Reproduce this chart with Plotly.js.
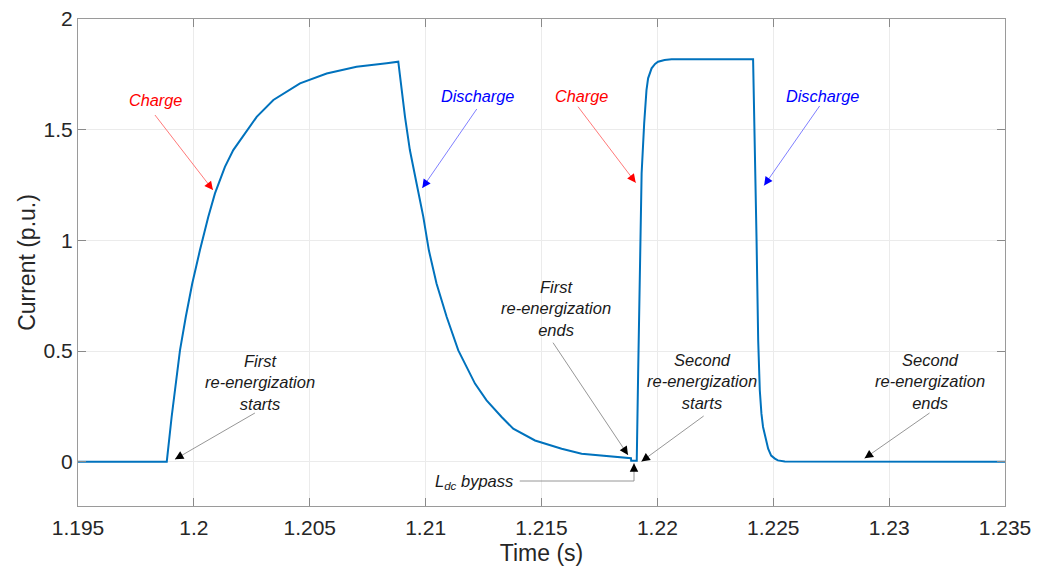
<!DOCTYPE html>
<html>
<head>
<meta charset="utf-8">
<script src="https://cdn.plot.ly/plotly-3.0.1.min.js"></script>
<style>html,body{margin:0;padding:0;background:#fff;}#chart{width:1050px;height:569px;}</style>
</head>
<body>
<div id="chart"></div>
<script>
// ---- data ----
const time = [1.195, 1.19883, 1.19904, 1.19921, 1.19940, 1.19965, 1.19993, 1.20026, 1.20062, 1.20091,
  1.20134, 1.20170, 1.20220, 1.20271, 1.20343, 1.20458, 1.20573, 1.20702, 1.20832, 1.20882,
  1.20911, 1.20932, 1.20961, 1.20990, 1.21014, 1.21047, 1.21091, 1.21141, 1.21213, 1.21263,
  1.21328, 1.21378, 1.21472, 1.21587, 1.21673, 1.21874, 1.21886, 1.21887, 1.21911, 1.21917,
  1.21925, 1.21932, 1.21943, 1.21953, 1.21960, 1.21975, 1.21990, 1.22003, 1.22031, 1.22061,
  1.22413, 1.22421, 1.22428, 1.22435, 1.22442, 1.22449, 1.22456, 1.22478, 1.22491, 1.22507,
  1.22520, 1.22550, 1.235];
const current = [0, 0, 0.202, 0.353, 0.503, 0.654, 0.805, 0.955, 1.106, 1.212,
  1.332, 1.408, 1.483, 1.558, 1.634, 1.709, 1.754, 1.784, 1.800, 1.807,
  1.558, 1.408, 1.257, 1.106, 0.955, 0.805, 0.654, 0.503, 0.353, 0.277,
  0.202, 0.149, 0.096, 0.059, 0.036, 0.018, 0.016, 0.004, 0.004, 0.398,
  0.85, 1.302, 1.528, 1.679, 1.732, 1.777, 1.797, 1.807, 1.815, 1.818,
  1.818, 1.453, 1.0, 0.548, 0.322, 0.217, 0.157, 0.059, 0.028, 0.014,
  0.006, 0.001, 0];
const xTicks = [1.195, 1.2, 1.205, 1.21, 1.215, 1.22, 1.225, 1.23, 1.235];
const xTickLabels = ['1.195', '1.2', '1.205', '1.21', '1.215', '1.22', '1.225', '1.23', '1.235'];
const yTicks = [0, 0.5, 1, 1.5, 2];
const yTickLabels = ['0', '0.5', '1', '1.5', '2'];

// ---- geometry helpers ----
const M = {l: 78, t: 19, r: 44.5, b: 63};
const W = 1050 - M.l - M.r, H = 569 - M.t - M.b;
const xr = [1.195, 1.235], yr = [-0.2, 2];
const dx = px => xr[0] + (px - M.l) / W * (xr[1] - xr[0]);
const dy = py => yr[1] - (py - M.t) / H * (yr[1] - yr[0]);

const FONT = 'Liberation Sans, Arial, Helvetica, sans-serif';

// text labels (pixel placement)
const labels = [
  {t: 'Charge', x: 156, y: 100, c: '#ff0000', s: 16.3},
  {t: 'Discharge', x: 478, y: 96, c: '#0000ff', s: 16.3},
  {t: 'Charge', x: 582, y: 96, c: '#ff0000', s: 16.3},
  {t: 'Discharge', x: 823, y: 96, c: '#0000ff', s: 16.3},
  {t: 'First<br>re-energization<br>starts', x: 260, y: 382.5, c: '#1a1a1a', s: 16.5},
  {t: 'First<br>re-energization<br>ends', x: 556, y: 308.5, c: '#1a1a1a', s: 16.5},
  {t: 'Second<br>re-energization<br>starts', x: 702, y: 381.5, c: '#1a1a1a', s: 16.5},
  {t: 'Second<br>re-energization<br>ends', x: 930, y: 381.5, c: '#1a1a1a', s: 16.5},
  {t: 'L<sub>dc</sub> bypass', x: 474, y: 482, c: '#1a1a1a', s: 16.5}
];
// arrows (tail -> tip, pixel placement)
const arrows = [
  {a: [155, 115], b: [213, 190], lc: '#ff6a6a', hc: '#ff0000'},
  {a: [477, 109], b: [422.5, 188], lc: '#7070ff', hc: '#0000ff'},
  {a: [578.3, 106.7], b: [636, 182.7], lc: '#ff6a6a', hc: '#ff0000'},
  {a: [820, 106], b: [764.5, 185.5], lc: '#7070ff', hc: '#0000ff'},
  {a: [255, 413], b: [175, 459.3], lc: '#8a8a8a', hc: '#000000'},
  {a: [553.3, 342.7], b: [628.3, 455], lc: '#8a8a8a', hc: '#000000'},
  {a: [704, 416], b: [641.7, 461.5], lc: '#8a8a8a', hc: '#000000'},
  {a: [930, 413], b: [865, 458.3], lc: '#8a8a8a', hc: '#000000'},
  {a: [634.3, 481], b: [634.3, 463.3], lc: '#8a8a8a', hc: '#000000'}
];

const annotations = [];
labels.forEach(l => annotations.push({
  x: dx(l.x), y: dy(l.y), xref: 'x', yref: 'y', text: l.t, showarrow: false,
  xanchor: 'center', yanchor: 'middle', align: 'center',
  font: {family: FONT, size: l.s, color: l.c, style: 'italic'}
}));
const shapes = [{
  type: 'line', xref: 'x', yref: 'y', x0: dx(520), y0: dy(481), x1: dx(634.3), y1: dy(481),
  line: {color: '#8a8a8a', width: 0.9}
}];
arrows.forEach(r => {
  const vx = r.a[0] - r.b[0], vy = r.a[1] - r.b[1];
  const len = Math.hypot(vx, vy);
  shapes.push({
    type: 'line', xref: 'x', yref: 'y', x0: dx(r.a[0]), y0: dy(r.a[1]), x1: dx(r.b[0]), y1: dy(r.b[1]),
    line: {color: r.lc, width: 0.9}
  });
  annotations.push({
    x: dx(r.b[0]), y: dy(r.b[1]), xref: 'x', yref: 'y', ax: vx / len * 6, ay: vy / len * 6, text: '',
    showarrow: true, arrowhead: 2, arrowwidth: 1, arrowsize: 1.7, arrowcolor: r.hc
  });
});

const trace = {
  x: time, y: current, type: 'scatter', mode: 'lines',
  line: {color: '#0072BD', width: 2}, hoverinfo: 'skip'
};

const axisCommon = {
  showline: true, mirror: 'ticks', linecolor: '#9a9a9a', linewidth: 1,
  ticks: 'inside', ticklen: 8, tickcolor: '#8a8a8a', tickwidth: 1,
  showgrid: true, gridcolor: '#ebebeb', gridwidth: 1, zeroline: false,
  tickfont: {family: FONT, size: 21, color: '#262626'}
};

const layout = {
  width: 1050, height: 569,
  margin: M,
  paper_bgcolor: '#ffffff', plot_bgcolor: '#ffffff',
  showlegend: false,
  xaxis: Object.assign({}, axisCommon, {
    range: xr, tickmode: 'array', tickvals: xTicks, ticktext: xTickLabels,
    ticklabelstandoff: 3,
    title: {text: 'Time (s)', font: {family: FONT, size: 23, color: '#262626'}, standoff: 6},
    automargin: false
  }),
  yaxis: Object.assign({}, axisCommon, {
    range: yr, tickmode: 'array', tickvals: yTicks, ticktext: yTickLabels,
    title: {text: 'Current (p.u.)', font: {family: FONT, size: 23, color: '#262626'}, standoff: 1},
    automargin: false
  }),
  annotations: annotations,
  shapes: shapes
};

Plotly.newPlot('chart', [trace], layout, {displayModeBar: false, staticPlot: true});
</script>
</body>
</html>
